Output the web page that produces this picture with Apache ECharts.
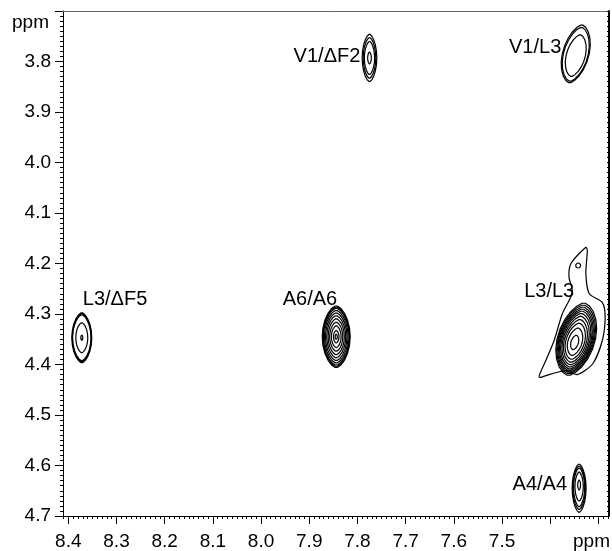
<!DOCTYPE html>
<html>
<head>
<meta charset="utf-8">
<script src="https://cdn.jsdelivr.net/npm/echarts@6/dist/echarts.min.js"></script>
<style>
  html, body { margin: 0; padding: 0; background: #fff; }
  #chart { width: 612px; height: 551px; }
</style>
</head>
<body>
<div id="chart"></div>
<script>
// cross peaks (ppm)
var peakNames = ['V1/ΔF2', 'V1/L3', 'L3/ΔF5', 'A6/A6', 'L3/L3', 'A4/A4'];
var peakX     = [7.775, 7.347, 8.372, 7.844, 7.346, 7.340];
var peakY     = [3.793, 3.785, 4.347, 4.345, 4.350, 4.645];
var halfW     = [0.0152, 0.028, 0.0207, 0.029, 0.040, 0.0145];
var halfH     = [0.047, 0.0575, 0.0496, 0.0615, 0.072, 0.048];
var tilt      = [0, 0.22, 0, 0, 0.22, 0];
var driftX    = [0, 0, 0, 0, 0.004, 0];
var driftY    = [0, 0.012, 0, 0, 0.008, -0.008];
// contour levels of each peak, as fraction of the outer contour
var levels = [
  [1, 0.86, 0.7, 0.25],
  [1, 0.93, 0.72],
  [1, 0.96, 0.92, 0.6, 0.1],
  [1, 0.96, 0.92, 0.85, 0.77, 0.68, 0.58, 0.47, 0.35, 0.2, 0.08],
  [1, 0.95, 0.9, 0.85, 0.8, 0.74, 0.67, 0.59, 0.5, 0.38, 0.2],
  [1, 0.9, 0.8, 0.6, 0.2]
];
// label anchors (ppm)
var labelX     = [7.794, 7.377, 8.370, 7.955, 7.454, 7.365];
var labelY     = [3.791, 3.773, 4.272, 4.272, 4.256, 4.638];
var labelAlign = ['right', 'right', 'left', 'left', 'left', 'right'];

// lowest contour of L3/L3 (irregular) and the small island above it
var envX = [7.326, 7.357, 7.361, 7.354, 7.375, 7.392, 7.409, 7.423, 7.399, 7.367,
            7.344, 7.312, 7.292, 7.286, 7.292, 7.319, 7.326, 7.323];
var envY = [4.168, 4.200, 4.227, 4.257, 4.300, 4.353, 4.392, 4.425, 4.419, 4.412,
            4.420, 4.399, 4.353, 4.306, 4.277, 4.260, 4.220, 4.174];
var islandX = [7.342], islandY = [4.204];

// axis ticks
var xLabels = [8.4, 8.3, 8.2, 8.1, 8.0, 7.9, 7.8, 7.7, 7.6, 7.5];
var xMajor  = [8.4, 8.3, 8.2, 8.1, 8.0, 7.9, 7.8, 7.7, 7.6, 7.5, 7.4, 7.3];
var yLabels = [3.8, 3.9, 4.0, 4.1, 4.2, 4.3, 4.4, 4.5, 4.6, 4.7];
var yMajor  = [3.7, 3.8, 3.9, 4.0, 4.1, 4.2, 4.3, 4.4, 4.5, 4.6, 4.7];

var xMinor = [], yMinor = [];
for (var k = 728; k <= 841; k++) xMinor.push(k / 100);
for (var k = 370; k <= 470; k++) yMinor.push(k / 100);

var FAMILY = '"Liberation Sans", Arial, sans-serif';
var FONT = '19px ' + FAMILY;
var PEAK_FONT = '20px ' + FAMILY;
var LINE = { color: '#000', width: 1 };
var CW = 1.2;

function ringPoints(api, cx, cy, a, b, sh) {
  var pts = [], n = 22;
  for (var j = 0; j < n; j++) {
    var t = 2 * Math.PI * j / n;
    var c = Math.cos(t), s = Math.sin(t);
    var dx = a * (c < 0 ? -1 : 1) * Math.pow(Math.abs(c), 1.25);
    var dy = b * s;
    pts.push(api.coord([cx + dx + sh * dy, cy + dy]));
  }
  return pts;
}

function renderPeak(params, api) {
  var i = params.dataIndex;
  var cx = api.value(0), cy = api.value(1);
  var kids = [];
  levels[i].forEach(function (f) {
    var ox = cx + driftX[i] * (1 - f), oy = cy + driftY[i] * (1 - f);
    kids.push({
      type: 'polygon',
      shape: { points: ringPoints(api, ox, oy, halfW[i] * f, halfH[i] * f, tilt[i]) },
      style: { fill: 'none', stroke: '#000', lineWidth: CW }
    });
  });
  var lp = api.coord([labelX[i], labelY[i]]);
  kids.push({
    type: 'text', x: lp[0], y: lp[1],
    style: { text: peakNames[i], fill: '#000', font: PEAK_FONT, align: labelAlign[i], verticalAlign: 'middle' }
  });
  return { type: 'group', children: kids };
}

function renderEnvelope(params, api) {
  var pts = envX.map(function (x, j) { return api.coord([x, envY[j]]); });
  var kids = [{
    type: 'polygon', shape: { points: pts, smooth: 0.25 },
    style: { fill: 'none', stroke: '#000', lineWidth: CW }
  }];
  islandX.forEach(function (x, j) {
    kids.push({
      type: 'polygon',
      shape: { points: ringPoints(api, x, islandY[j], 0.005, 0.005, 0) },
      style: { fill: 'none', stroke: '#000', lineWidth: CW }
    });
  });
  return { type: 'group', children: kids };
}

var X_MIN = 7.278, X_MAX = 8.411, Y_MIN = 3.70, Y_MAX = 4.70;

function baseAxis(extra) {
  var o = {
    type: 'value', inverse: true, scale: true,
    splitLine: { show: false },
    axisLine: { show: false },
    axisTick: { show: false },
    axisLabel: { show: false }
  };
  for (var k in extra) o[k] = extra[k];
  return o;
}

var option = {
  backgroundColor: '#fff',
  animation: false,
  grid: { left: 63, right: 3, top: 11, bottom: 35 },
  xAxis: [
    baseAxis({
      min: X_MIN, max: X_MAX, position: 'bottom',
      axisLine: { show: true, lineStyle: LINE },
      axisTick: { show: true, customValues: xMajor, length: 8, lineStyle: LINE },
      axisLabel: {
        show: true, customValues: xLabels, margin: 16, color: '#000',
        fontFamily: FAMILY, fontSize: 19,
        formatter: function (v) { return v.toFixed(1); }
      }
    }),
    baseAxis({
      min: X_MIN, max: X_MAX, position: 'bottom',
      axisTick: { show: true, customValues: xMinor, length: 3, lineStyle: LINE }
    }),
    baseAxis({
      min: X_MIN, max: X_MAX, position: 'top',
      axisLine: { show: true, lineStyle: { color: '#666', width: 1 } }
    })
  ],
  yAxis: [
    baseAxis({
      min: Y_MIN, max: Y_MAX, position: 'left',
      axisLine: { show: true, lineStyle: LINE },
      axisTick: { show: true, customValues: yMajor, length: 8, lineStyle: LINE },
      axisLabel: {
        show: true, customValues: yLabels, margin: 12, color: '#000',
        fontFamily: FAMILY, fontSize: 19,
        formatter: function (v) { return v.toFixed(1); }
      }
    }),
    baseAxis({
      min: Y_MIN, max: Y_MAX, position: 'left',
      axisTick: { show: true, customValues: yMinor, length: 3, lineStyle: LINE }
    }),
    baseAxis({
      min: Y_MIN, max: Y_MAX, position: 'right',
      axisLine: { show: true, lineStyle: { color: '#000', width: 2 } },
      axisTick: { show: true, inside: true, customValues: yMinor, length: 2, lineStyle: LINE }
    })
  ],
  graphic: [
    { type: 'text', left: 12, top: 13, style: { text: 'ppm', fill: '#000', font: FONT } },
    { type: 'text', right: 2, top: 532, style: { text: 'ppm', fill: '#000', font: FONT } }
  ],
  series: [
    {
      type: 'custom', xAxisIndex: 0, yAxisIndex: 0,
      renderItem: renderPeak,
      encode: { x: 0, y: 1 },
      data: peakNames.map(function (n, i) { return [peakX[i], peakY[i]]; })
    },
    {
      type: 'custom', xAxisIndex: 0, yAxisIndex: 0,
      renderItem: renderEnvelope,
      encode: { x: 0, y: 1 },
      data: [[envX[0], envY[0]]]
    }
  ]
};

var chart = echarts.init(document.getElementById('chart'));
chart.setOption(option);
</script>
</body>
</html>
